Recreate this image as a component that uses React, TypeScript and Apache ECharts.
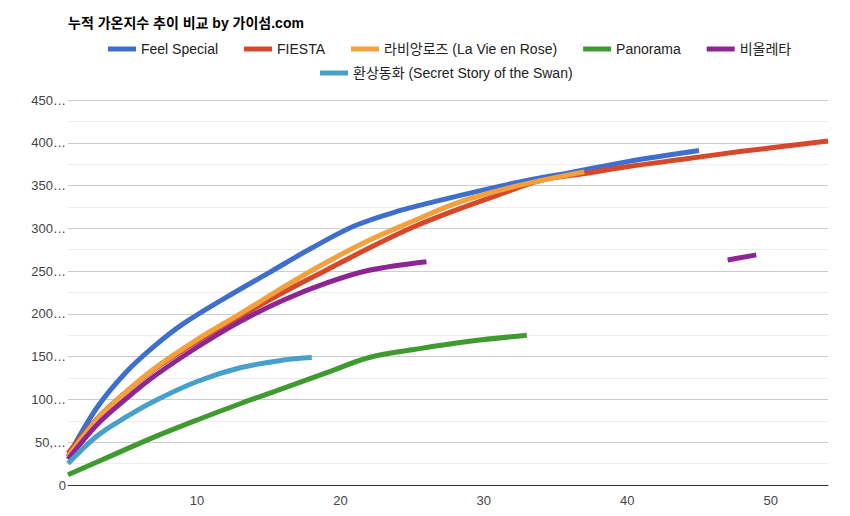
import React, { useEffect, useRef } from "react";
import * as echarts from "echarts";

const chartTitle = "누적 가온지수 추이 비교 by 가이섬.com";

const seriesNames = [
  "Feel Special",
  "FIESTA",
  "라비앙로즈 (La Vie en Rose)",
  "Panorama",
  "비올레타",
  "환상동화 (Secret Story of the Swan)",
];

const seriesColors = ["#3f6fce", "#d5482a", "#f4a03c", "#3f9a2f", "#8e2595", "#47a0ca"];

const xTickLabels = [10, 20, 30, 40, 50];

const feelSpecial: [number, number][] = [
  [1, 33000], [3, 90000], [5, 131000], [7, 162000], [9, 188000], [12, 219000],
  [15, 248000], [18, 277000], [21, 303000], [24, 320000], [27, 333000], [30, 345000],
  [33, 356000], [36, 365000], [40, 378000], [45, 391000],
];

const fiesta: [number, number][] = [
  [1, 37000], [3, 77000], [5, 108000], [7, 135000], [10, 168000], [13, 197000],
  [16, 225000], [19, 251000], [22, 277000], [25, 301000], [28, 321000], [31, 339000],
  [34, 356000], [37, 364000], [40, 372000], [44, 381000], [48, 390000], [54, 402000],
];

const laVieEnRose: [number, number][] = [
  [1, 33000], [3, 76000], [5, 108000], [7, 136000], [10, 170000], [13, 200000],
  [16, 231000], [19, 260000], [22, 286000], [25, 308000], [28, 329000], [31, 344000],
  [34, 356000], [37, 366000],
];

const panorama: [number, number][] = [
  [1, 12000], [4, 34000], [7, 56000], [10, 76000], [13, 95000], [16, 113000],
  [19, 131000], [22, 149000], [25, 158000], [29, 168000], [33, 175000],
];

const violeta: [number, number | string][] = [
  [1, 30000], [3, 70000], [5, 100000], [7, 127000], [10, 161000], [13, 191000],
  [16, 216000], [19, 236000], [22, 251000], [26, 261000],
  [36, "-"],
  [47, 263000], [49, 269000],
];

const secretStory: [number, number][] = [
  [1, 25000], [3, 57000], [5, 79000], [7, 98000], [10, 121000], [13, 137000],
  [16, 146000], [18, 149000],
];

const seriesData = [feelSpecial, fiesta, laVieEnRose, panorama, violeta, secretStory];

const FONT = "Arial, 'Liberation Sans', 'Noto Sans CJK KR', sans-serif";

export default function App() {
  const ref = useRef<HTMLDivElement>(null);

  useEffect(() => {
    if (!ref.current) return;
    const chart = echarts.init(ref.current, undefined, { renderer: "svg" });
    const legendCommon = {
      orient: "horizontal" as const,
      icon: "rect",
      itemWidth: 28,
      itemHeight: 5,
      itemGap: 26,
      textStyle: { color: "#222", fontSize: 14, fontFamily: FONT },
    };
    chart.setOption({
      animation: false,
      backgroundColor: "#fff",
      title: {
        text: chartTitle,
        left: 63,
        top: 11,
        textStyle: { fontSize: 14, fontWeight: "bold", color: "#000", fontFamily: FONT },
      },
      legend: [
        { ...legendCommon, left: 103, top: 37, data: seriesNames.slice(0, 5) },
        { ...legendCommon, left: 315, top: 61, data: seriesNames.slice(5) },
      ],
      grid: { left: 68, right: 22, top: 100, bottom: 31, containLabel: false, outerBoundsMode: "none" },
      xAxis: {
        type: "value",
        min: 1,
        max: 54,
        axisLine: { show: true, lineStyle: { color: "#333", width: 1 } },
        axisTick: { show: false },
        splitLine: { show: false },
        axisLabel: {
          customValues: xTickLabels,
          color: "#444",
          fontSize: 13,
          fontFamily: FONT,
          margin: 9,
        },
      },
      yAxis: {
        type: "value",
        min: 0,
        max: 450000,
        interval: 50000,
        axisLine: { show: false },
        axisTick: { show: false },
        splitLine: { show: true, lineStyle: { color: "#cccccc", width: 1 } },
        minorTick: { show: false, splitNumber: 2 },
        minorSplitLine: { show: true, lineStyle: { color: "#ececec", width: 1 } },
        axisLabel: {
          color: "#444",
          fontSize: 13,
          fontFamily: FONT,
          margin: 2,
          formatter: (v: number) =>
            v === 0 ? "0" : v.toLocaleString("en-US").slice(0, 3) + "…",
        },
      },
      series: seriesNames.map((name, i) => ({
        name,
        type: "line",
        data: seriesData[i],
        smooth: 0.35,
        showSymbol: false,
        symbol: "none",
        connectNulls: false,
        color: seriesColors[i],
        lineStyle: { width: 5, color: seriesColors[i], cap: "butt" },
        z: 2 + i,
      })),
    });
    return () => chart.dispose();
  }, []);

  return (
    <div
      ref={ref}
      style={{ position: "absolute", left: 0, top: 0, width: 850, height: 516 }}
    />
  );
}
